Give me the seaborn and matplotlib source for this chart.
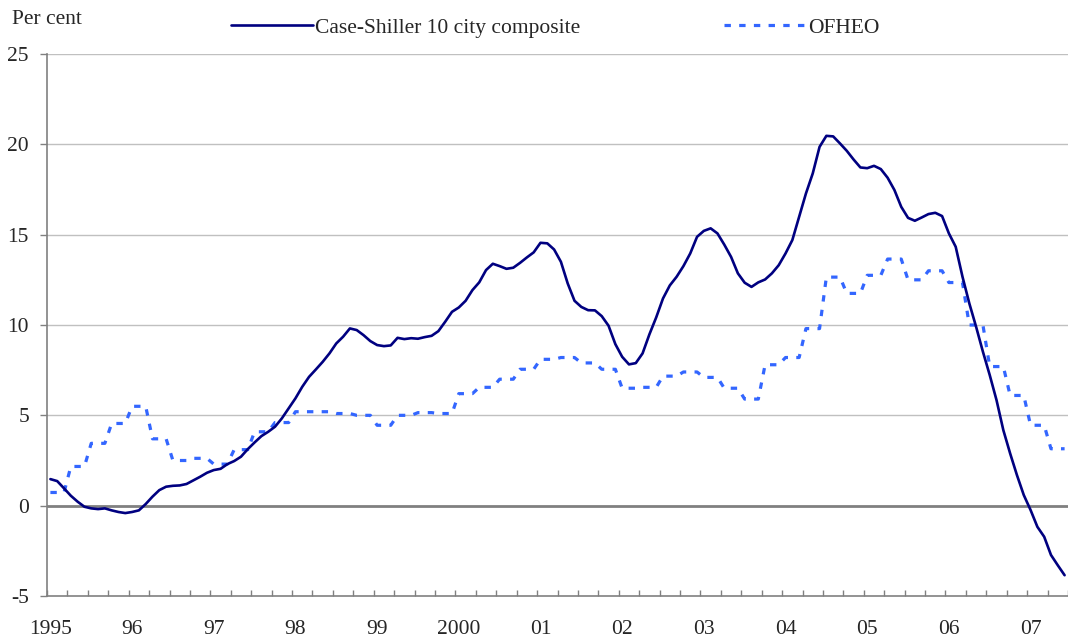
import numpy as np
import pandas as pd
import matplotlib
matplotlib.use("Agg")
import matplotlib.pyplot as plt
import seaborn as sns
from matplotlib.ticker import FixedLocator

# Case-Shiller 10 city composite, annual % change, monthly Jan 1995 - Jun 2007
case_shiller = [
    1.47, 1.36, 0.96, 0.55, 0.22, -0.06, -0.15, -0.19, -0.15, -0.26, -0.35, -0.41,   # 1995
    -0.35, -0.26, 0.09, 0.50, 0.86, 1.05, 1.10, 1.12, 1.20, 1.40, 1.60, 1.82,        # 1996
    1.97, 2.04, 2.30, 2.47, 2.71, 3.13, 3.50, 3.85, 4.09, 4.37, 4.83, 5.38,          # 1997
    5.94, 6.58, 7.13, 7.54, 7.96, 8.43, 8.98, 9.35, 9.81, 9.72, 9.44, 9.11,          # 1998
    8.89, 8.83, 8.87, 9.29, 9.22, 9.27, 9.24, 9.33, 9.40, 9.66, 10.18, 10.73,        # 1999
    10.97, 11.34, 11.93, 12.36, 13.04, 13.39, 13.26, 13.11, 13.17, 13.44, 13.74, 14.02,  # 2000
    14.55, 14.52, 14.18, 13.50, 12.30, 11.34, 11.00, 10.82, 10.81, 10.49, 9.96, 8.94,    # 2001
    8.24, 7.82, 7.89, 8.43, 9.48, 10.42, 11.47, 12.19, 12.67, 13.26, 13.96, 14.88,       # 2002
    15.21, 15.35, 15.07, 14.45, 13.77, 12.86, 12.34, 12.11, 12.36, 12.52, 12.86, 13.31,  # 2003
    13.96, 14.70, 15.99, 17.28, 18.39, 19.86, 20.47, 20.44, 20.05, 19.64, 19.16, 18.72,  # 2004
    18.68, 18.81, 18.63, 18.15, 17.47, 16.54, 15.93, 15.77, 15.95, 16.14, 16.21, 16.03,  # 2005
    15.07, 14.33, 12.67, 11.20, 9.90, 8.52, 7.23, 5.84, 4.18, 2.89, 1.69, 0.59,          # 2006
    -0.24, -1.17, -1.72, -2.73, -3.30, -3.85,                                            # 2007
]

# OFHEO, annual % change, quarterly 1995Q1 - 2007Q2 (shown on the monthly axis)
ofheo_quarterly = [
    0.73, 2.17, 3.45, 4.55,    # 1995
    5.50, 3.70, 2.50, 2.62,    # 1996
    2.30, 3.10, 4.09, 4.60,    # 1997
    5.20, 5.20, 5.10, 5.00,    # 1998
    4.45, 5.00, 5.15, 5.10,    # 1999
    6.20, 6.55, 7.00, 7.55,    # 2000
    8.10, 8.20, 7.90, 7.55,    # 2001
    6.50, 6.55, 7.17, 7.40,    # 2002
    7.10, 6.50, 5.90, 7.80,    # 2003
    8.20, 9.80, 12.65, 11.75,  # 2004
    12.75, 13.65, 12.50, 13.00,  # 2005
    12.35, 10.00, 7.70, 6.10,  # 2006
    4.45, 3.15,                # 2007
]

year_labels = ["1995", "96", "97", "98", "99", "2000", "01", "02", "03",
               "04", "05", "06", "07"]

months = np.arange(len(case_shiller))
df = pd.DataFrame({
    "month": months,
    "Case-Shiller 10 city composite": case_shiller,
    "OFHEO": np.repeat(ofheo_quarterly, 3)[:len(case_shiller)],
})

sns.set_style("white")
plt.rcParams["font.family"] = ["Liberation Serif", "DejaVu Serif"]
plt.rcParams["axes.unicode_minus"] = False

fig = plt.figure(figsize=(10.68, 6.41), dpi=100)
ax = fig.add_axes([47 / 1068, 1 - 596 / 641, 1 - 47 / 1068, (596 - 54) / 641])

# grid and zero line
for v in [5, 10, 15, 20, 25]:
    ax.axhline(v, color="#c0c0c0", linewidth=1.0, zorder=0)
ax.axhline(0, color="#808080", linewidth=2.0, zorder=1)

sns.lineplot(data=df, x="month", y="Case-Shiller 10 city composite", ax=ax,
             color="#000080", linewidth=1.9, label="Case-Shiller 10 city composite",
             zorder=3)
sns.lineplot(data=df, x="month", y="OFHEO", ax=ax,
             color="#3366ff", linewidth=2.3, label="OFHEO", zorder=2)
ax.get_lines()[-1].set_dashes((2.0, 2.6))

ax.set_xlim(-0.5, len(case_shiller) - 0.5)
ax.set_ylim(-5, 25)
ax.set_yticks([-5, 0, 5, 10, 15, 20, 25])
ax.set_xlabel("")
ax.set_ylabel("")

# year labels under January, quarter ticks inside the axis
ax.set_xticks(np.arange(0, len(case_shiller), 12))
ax.set_xticklabels(year_labels)
ax.xaxis.set_minor_locator(FixedLocator(np.arange(-0.5, len(case_shiller), 3)))
ax.tick_params(axis="x", which="major", length=0, pad=17, labelsize=15.5)
ax.tick_params(axis="x", which="minor", direction="in", length=4.5,
               width=1, color="#808080", bottom=True)
ax.tick_params(axis="y", which="major", direction="out", length=5, width=1,
               color="#808080", pad=8, labelsize=15.5, left=True)

for side in ["top", "right"]:
    ax.spines[side].set_visible(False)
for side in ["left", "bottom"]:
    ax.spines[side].set_color("#808080")
    ax.spines[side].set_linewidth(1.2)

handles, labels = ax.get_legend_handles_labels()
ax.get_legend().remove()
fig.legend(handles, labels, loc="center left", bbox_to_anchor=(231 / 1068, 1 - 28 / 641),
           ncol=2, frameon=False, fontsize=15.5, handlelength=3.8, handletextpad=0.1,
           columnspacing=6.7, borderpad=0, borderaxespad=0)

fig.text(12 / 1068, 1 - 19 / 641, "Per cent", fontsize=15.5, va="center", ha="left")

fig.savefig("out.png", dpi=100, facecolor="white")
